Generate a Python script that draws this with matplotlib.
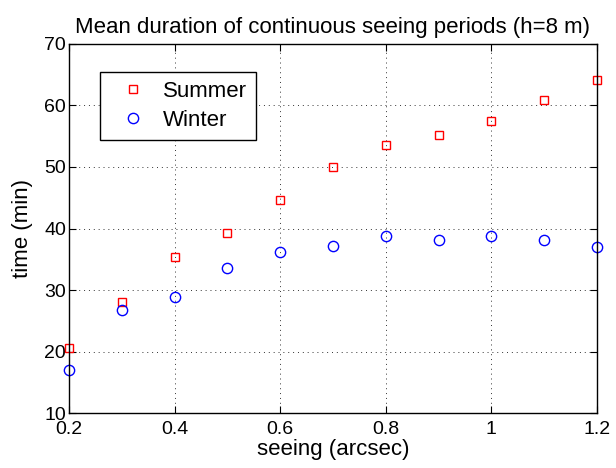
import matplotlib
matplotlib.use("Agg")
import matplotlib.pyplot as plt

plt.rcParams['font.family'] = ['Liberation Sans', 'DejaVu Sans']

seeing = [0.2, 0.3, 0.4, 0.5, 0.6, 0.7, 0.8, 0.9, 1.0, 1.1, 1.2]
summer = [20.5, 28.1, 35.4, 39.2, 44.7, 50.0, 53.5, 55.2, 57.5, 60.9, 64.1]
winter = [17.0, 26.7, 28.8, 33.6, 36.1, 37.2, 38.8, 38.1, 38.8, 38.2, 37.0]

xticks = [0.2, 0.4, 0.6, 0.8, 1.0, 1.2]
xticklabels = ['0.2', '0.4', '0.6', '0.8', '1', '1.2']
yticks = [10, 20, 30, 40, 50, 60, 70]

fig = plt.figure(figsize=(6.16, 4.68), dpi=100)
ax = fig.add_axes([0.112, 0.1175, 0.857, 0.7885])

ax.plot(seeing, summer, linestyle='none', marker='s', markersize=6,
        markerfacecolor='none', markeredgecolor='red', markeredgewidth=1.0,
        label='Summer', clip_on=False)
ax.plot(seeing, winter, linestyle='none', marker='o', markersize=7.4,
        markerfacecolor='none', markeredgecolor='blue', markeredgewidth=1.0,
        label='Winter', clip_on=False)

ax.set_xlim(0.2, 1.2)
ax.set_ylim(10, 70)
ax.set_xticks(xticks)
ax.set_xticklabels(xticklabels)
ax.set_yticks(yticks)
ax.tick_params(direction='in', length=5, width=0.8, labelsize=14,
               top=True, right=True)
ax.tick_params(axis='x', pad=6)
ax.tick_params(axis='y', pad=2)
ax.grid(True, linestyle=(0, (1, 4)), color='black', linewidth=0.7, alpha=0.8)
for s in ax.spines.values():
    s.set_linewidth(1.0)

ax.set_xlabel('seeing (arcsec)', fontsize=16, labelpad=0.5)
ax.set_ylabel('time (min)', fontsize=16, labelpad=8)
ax.set_title('Mean duration of continuous seeing periods (h=8 m)', fontsize=16, pad=8)

leg = ax.legend(loc='upper left', bbox_to_anchor=(0.0587, 0.924), borderaxespad=0,
                fontsize=16, fancybox=False, framealpha=1, edgecolor='black',
                handletextpad=0.25, borderpad=0.4, labelspacing=0.35,
                handlelength=2.2)
leg.get_frame().set_linewidth(1.0)

fig.savefig('out.png', dpi=100)
